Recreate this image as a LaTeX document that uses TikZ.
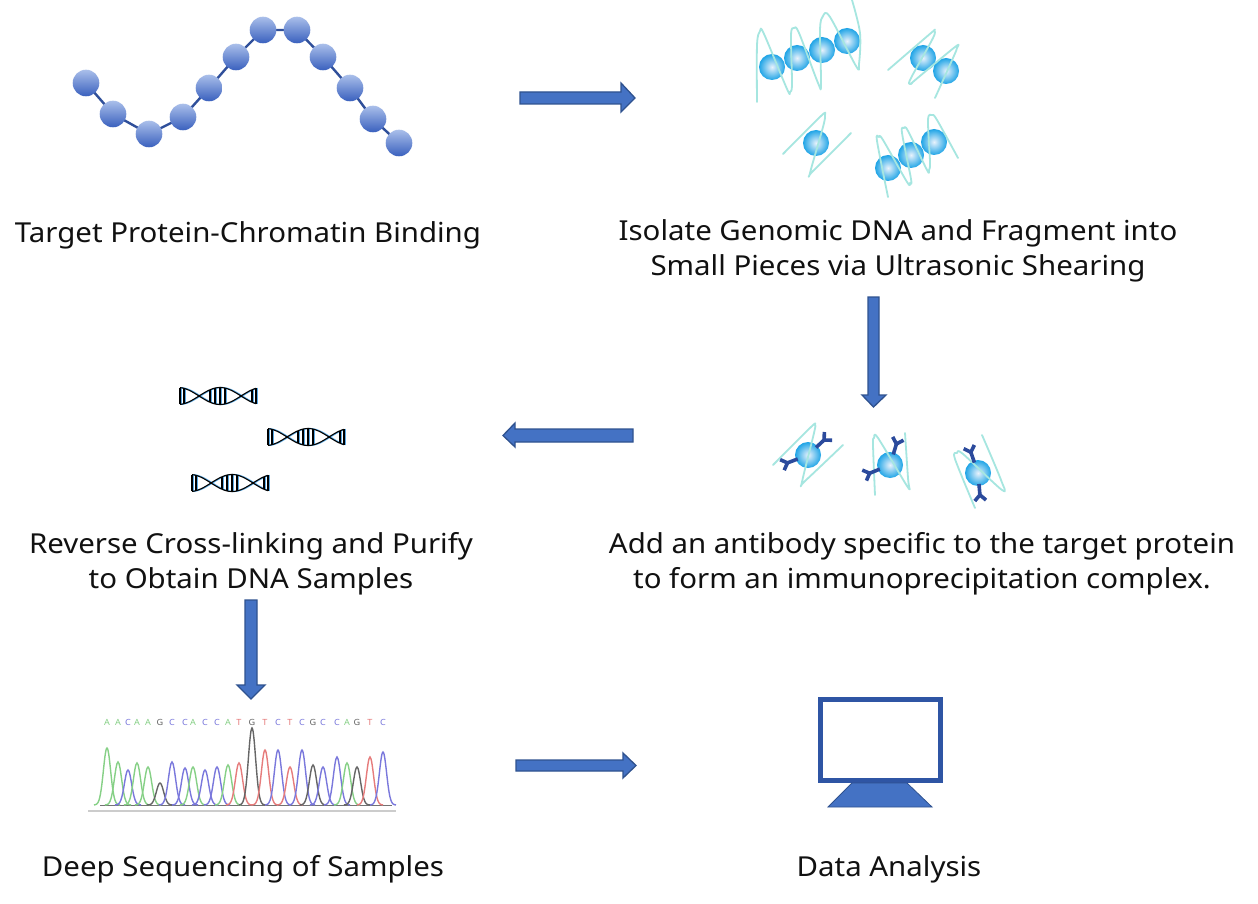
\documentclass[tikz,border=0pt]{standalone}
\usepackage{fontspec}
\setmainfont{Noto Sans}[FakeStretch=1.07]
\definecolor{arrowfill}{HTML}{4472C4}
\definecolor{arrowdraw}{HTML}{2F528F}
\definecolor{beadtop}{HTML}{AABFEA}
\definecolor{beadbot}{HTML}{3960BE}
\definecolor{chainc}{HTML}{2F4F9A}
\definecolor{nucin}{HTML}{E8F2FC}
\definecolor{nucout}{HTML}{1FA4E6}
\definecolor{wrapc}{HTML}{A6E6E0}
\definecolor{abc}{HTML}{2B4A9C}
\definecolor{monc}{HTML}{2F55A4}
\definecolor{helixblue}{HTML}{5AAAE6}
\definecolor{cg}{HTML}{86D086}
\definecolor{cb}{HTML}{7A78DC}
\definecolor{ck}{HTML}{666666}
\definecolor{cr}{HTML}{E67C7C}
\definecolor{txt}{HTML}{111111}
\tikzset{
  blockarrow/.style={fill=arrowfill, draw=arrowdraw, line width=1.3pt, line join=miter},
  lbl/.style={font=\fontsize{27.5}{35}\selectfont, align=center, text=txt, inner sep=0pt, anchor=base},
  wrap/.style={draw=wrapc, line width=1.8pt, line cap=round, line join=round},
  abline/.style={draw=abc, line width=3.6pt, line cap=butt},
  pics/ab/.style={code={
    \draw[abline] (11,0) -- (23,0);
    \draw[abline] (22,0) -- ++(45:8);
    \draw[abline] (22,0) -- ++(-45:8);
  }},
  pics/helix/.style={code={
    \foreach \dx/\col in {1.5/helixblue, 0/black} {
      \begin{scope}[xshift=\dx]
        \draw[\col, line width=1.1pt] plot[domain=1:77, samples=40, smooth] (\x, {9+8.5*sin(180*(\x-20)/42)});
        \draw[\col, line width=1.1pt] plot[domain=1:77, samples=40, smooth] (\x, {9-8.5*sin(180*(\x-20)/42)});
        \foreach \b in {1, 5, 31, 36, 41, 46, 73, 77} {
          \draw[\col, line width=1.1pt] (\b, {9-8.5*abs(sin(180*(\b-20)/42))}) -- (\b, {9+8.5*abs(sin(180*(\b-20)/42))});
        }
      \end{scope}
    }
  }}
}
\begin{document}
\begin{tikzpicture}[x=1pt,y=-1pt]
\useasboundingbox (0,0) rectangle (1258,904);
\fill[white] (0,0) rectangle (1258,904);

% ---------- bead chain ----------
\draw[chainc, line width=2.4pt, line join=round]
  (86,83) -- (113,114) -- (149,134) -- (183,117) -- (209,88) -- (236,57) -- (263,30)
  -- (297,30) -- (323,57) -- (350,88) -- (373,119) -- (399,143);
\foreach \p in {(86,83),(113,114),(149,134),(183,117),(209,88),(236,57),(263,30),(297,30),(323,57),(350,88),(373,119),(399,143)} {
  \shade[top color=beadtop, bottom color=beadbot] \p circle (13.3);
}

% ---------- fragments (top right) ----------
\foreach \p in {(772,67),(797,58),(822,50),(847,41),(923,58),(946,71),(816,143),(888,168),(911,155),(934,142)} {
  \shade[inner color=nucin, outer color=nucout] \p circle (13);
}
\draw[wrap] plot[smooth, tension=0.55] coordinates {(757,102) (757,45) (760,31) (764,34) (787,89) (790,92) (792,84) (791,35) (794,28) (799,33) (818,83) (821,84) (820,30) (823,16) (830,17) (856,66) (859,64) (860,33) (852,0)};
\draw[wrap] plot[smooth, tension=0.55] coordinates {(888,70) (931,33) (934,31) (933,38) (910,80) (912,83) (914,81) (955,47) (957,48) (953,58) (935,98)};
\draw[wrap] plot[smooth, tension=0.55] coordinates {(783,154) (821,116) (825,115) (823,127) (810,173) (813,171) (851,133)};
\draw[wrap] plot[smooth, tension=0.55] coordinates {(888,197) (877,141) (879,137) (883,140) (907,182) (910,183) (911,179) (902,133) (904,128) (908,131) (927,170) (929,170) (930,162) (928,120) (932,115) (937,120) (958,158)};

% ---------- antibody complexes ----------
\foreach \p in {(808,455),(890,465),(978,473)} {
  \shade[inner color=nucin, outer color=nucout] \p circle (13);
}
\draw[wrap] plot[smooth, tension=0.55] coordinates {(773,465) (811,427) (815,425) (814,433) (802,482) (805,481) (843,445)};
\draw[wrap] plot[smooth, tension=0.55] coordinates {(875,495) (873,445) (874,438) (878,438) (907,486) (909,486) (908,478) (905,433)};
\draw[wrap] plot[smooth, tension=0.55] coordinates {(975,508) (955,459) (957,453) (963,454) (1002,490) (1001,480) (982,435)};
\pic[rotate=43] at (808,455) {ab};
\pic[rotate=-159] at (808,455) {ab};
\pic[rotate=73] at (890,465) {ab};
\pic[rotate=-158] at (890,465) {ab};
\pic[rotate=109] at (978,473) {ab};
\pic[rotate=-85] at (978,473) {ab};

% ---------- DNA helices ----------
\pic at (179,387) {helix};
\pic at (267,428) {helix};
\pic at (191,474) {helix};

% ---------- chromatogram ----------
\draw[black!20, line width=1.8pt] (88,811) -- (396,811);
\draw[black!55, line width=0.9pt] (100,805) -- (392,805);
\foreach \px/\h/\c in {107/57/cg, 118/43/cg, 128/35/cb, 137/42/cg, 148/38/cg, 160/22/ck, 172/43/cb, 185/37/cb, 193/38/cg, 205/35/cb, 217/38/cb, 228/40/cg, 239/42/cr, 252/77/ck, 265/55/cr, 278/55/cb, 290/38/cr, 302/55/cb, 313/40/ck, 323/38/cb, 337/48/cb, 347/42/cg, 357/38/ck, 370/48/cr, 383/53/cb} {
  \draw[\c, line width=1.4pt] plot[domain=-13:13, samples=27, smooth] ({\px+\x}, {805-\h*exp(-(\x*\x)/26)});
}
\foreach \px/\l/\c [count=\i] in {107/A/cg, 118/A/cg, 128/C/cb, 137/A/cg, 148/A/cg, 160/G/ck, 172/C/cb, 185/C/cb, 193/A/cg, 205/C/cb, 217/C/cb, 228/A/cg, 239/T/cr, 252/G/ck, 265/T/cr, 278/C/cb, 290/T/cr, 302/C/cb, 313/G/ck, 323/C/cb, 337/C/cb, 347/A/cg, 357/G/ck, 370/T/cr, 383/C/cb} {
  \node[font=\fontsize{8.5}{9}\selectfont\bfseries, text=\c, inner sep=0pt] (seq\i) at (\px,722) {\l};
}

% ---------- monitor ----------
\draw[monc, line width=5pt] (820.5,699.5) rectangle (940.5,780.5);
\filldraw[fill=arrowfill, draw=arrowdraw, line width=0.8pt] (852,783) -- (907,783) -- (932,807) -- (828,807) -- cycle;

% ---------- arrows ----------
\filldraw[blockarrow] (520,92) -- (621,92) -- (621,83) -- (635,98) -- (621,112) -- (621,104) -- (520,104) -- cycle;
\filldraw[blockarrow] (868,297) -- (879,297) -- (879,395) -- (886,395) -- (873.5,407) -- (862,395) -- (868,395) -- cycle;
\filldraw[blockarrow] (633,429) -- (515,429) -- (515,423) -- (503,435.5) -- (515,447) -- (515,442) -- (633,442) -- cycle;
\filldraw[blockarrow] (245,600) -- (257,600) -- (257,685) -- (265,685) -- (251,699) -- (237,685) -- (245,685) -- cycle;
\filldraw[blockarrow] (516,760) -- (623,760) -- (623,753) -- (636,765.5) -- (623,778) -- (623,771) -- (516,771) -- cycle;

% ---------- labels (base anchor = last line's baseline) ----------
\node[lbl] (t1) at (248,243) {Target Protein-Chromatin Binding};
\node[lbl] (t2) at (898,275) {Isolate Genomic DNA and Fragment into\\Small Pieces via Ultrasonic Shearing};
\node[lbl] (t3) at (922,588) {Add an antibody specific to the target protein\\to form an immunoprecipitation complex.};
\node[lbl] (t4) at (251,588) {Reverse Cross-linking and Purify\\to Obtain DNA Samples};
\node[lbl] (t5) at (243,876) {Deep Sequencing of Samples};
\node[lbl] (t6) at (889,876) {Data Analysis};
\end{tikzpicture}
\end{document}
